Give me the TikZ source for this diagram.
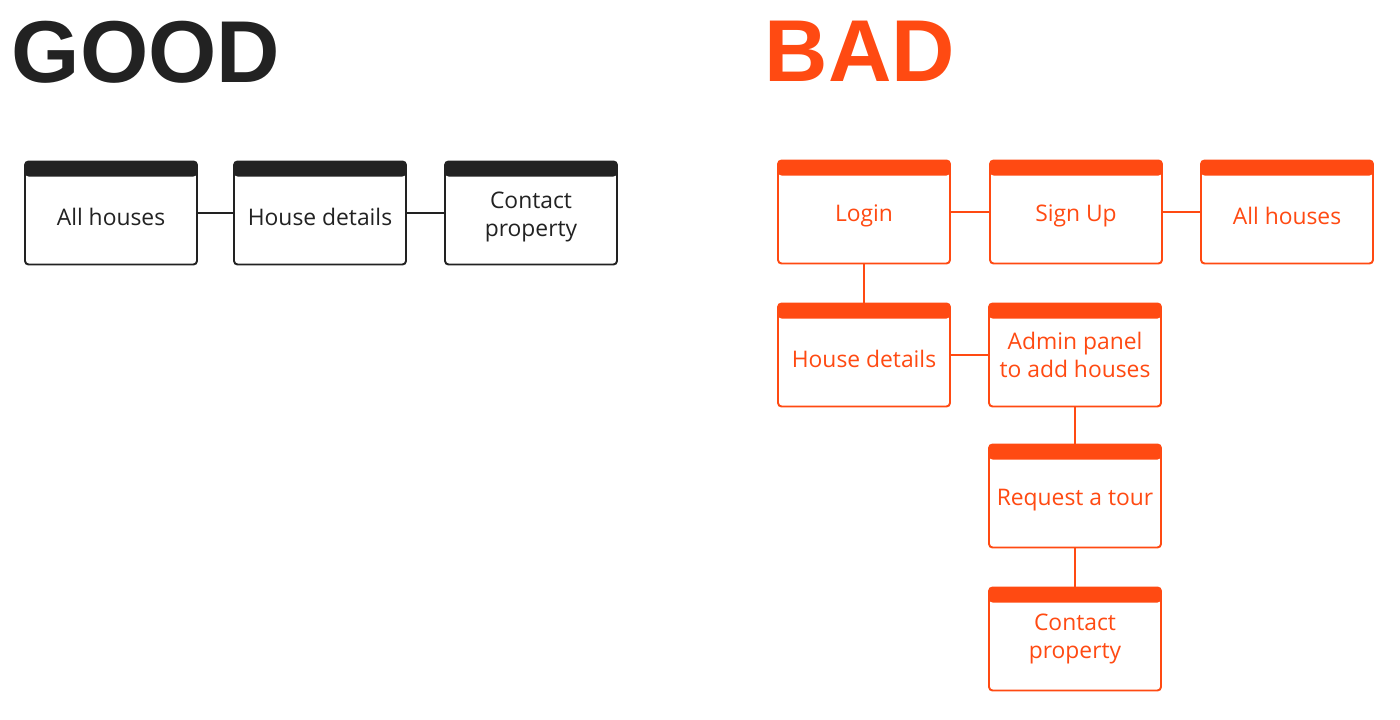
\documentclass[tikz,border=0pt]{standalone}
\usepackage{fontspec}
\setmainfont{Open Sans}
\newfontfamily\titlefont{Liberation Sans}
\definecolor{ink}{HTML}{222222}
\definecolor{flame}{HTML}{FF4A12}
\tikzset{
  screen/.style={draw=#1, line width=1.1pt, rounded corners=2pt, fill=white,
    minimum width=3.44cm, minimum height=2.06cm, align=center, text=#1,
    font=\fontsize{13}{16}\selectfont,
    path picture={\fill[#1] (path picture bounding box.north west) rectangle
      ([yshift=-0.3cm]path picture bounding box.north east);}},
  link/.style={draw=#1, line width=0.9pt},
  title/.style={font=\titlefont\bfseries\fontsize{50}{50}\selectfont, text=#1}
}
\begin{document}
\begin{tikzpicture}[x=0.02cm, y=-0.02cm]
  \useasboundingbox (0,0) rectangle (1400,720);
  % Good flow
  \node[title=ink] (good) at (146,52) {GOOD};
  \node[screen=ink] (gall) at (111,213) {\\[-2pt]All houses};
  \node[screen=ink] (gdetails) at (320,213) {\\[-2pt]House details};
  \node[screen=ink] (gcontact) at (531,213) {\\[-2pt]Contact\\property};
  \draw[link=ink] (gall) -- (gdetails);
  \draw[link=ink] (gdetails) -- (gcontact);

  % Bad flow
  \node[title=flame] (bad) at (860,51) {BAD};
  \node[screen=flame] (login) at (864,212) {\\[-2pt]Login};
  \node[screen=flame] (signup) at (1076,212) {\\[-2pt]Sign Up};
  \node[screen=flame] (ball) at (1287,212) {\\[-2pt]All houses};
  \node[screen=flame] (bdetails) at (864,355) {\\[-2pt]House details};
  \node[screen=flame] (admin) at (1075,355) {Admin panel\\to add houses};
  \node[screen=flame] (tour) at (1075,496) {\\[-2pt]Request a tour};
  \node[screen=flame] (bcontact) at (1075,639) {Contact\\property};
  \draw[link=flame] (login) -- (signup);
  \draw[link=flame] (signup) -- (ball);
  \draw[link=flame] (login) -- (bdetails);
  \draw[link=flame] (bdetails) -- (admin);
  \draw[link=flame] (admin) -- (tour);
  \draw[link=flame] (tour) -- (bcontact);
\end{tikzpicture}
\end{document}
